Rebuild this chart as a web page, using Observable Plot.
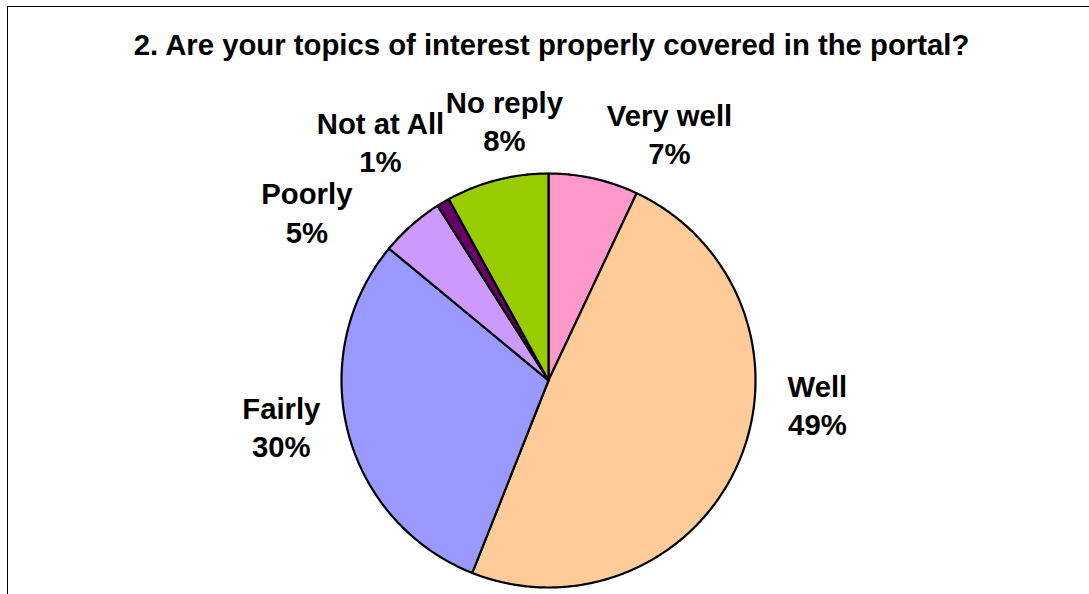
<!DOCTYPE html>
<html>
<head>
<meta charset="utf-8">
<script src="https://cdn.jsdelivr.net/npm/d3@7"></script>
<script src="https://cdn.jsdelivr.net/npm/@observablehq/plot@0.6"></script>
<style>
  html, body { margin: 0; padding: 0; background: #fff; overflow: hidden; width: 1089px; height: 594px; }
  #frame { position: absolute; left: 7px; top: 6px; width: 1200px; height: 700px; border: 1px solid #000; box-sizing: border-box; }
  #title { position: absolute; left: 0; top: 29px; width: 1089px; padding-left: 14px; box-sizing: border-box; text-align: center;
           font: bold 29.3px "Liberation Sans", Arial, sans-serif; line-height: 32px; color: #000; white-space: nowrap; }
  #chart { position: absolute; left: 0; top: 80px; }
</style>
</head>
<body>
<div id="frame"></div>
<div id="title">2. Are your topics of interest properly covered in the portal?</div>
<div id="chart"></div>
<script>
// ---- data ----
const categories = ["Very well", "Well", "Fairly", "Poorly", "Not at All", "No reply"];
const percents = [7, 49, 30, 5, 1, 8];
const colors = ["#FF99CC", "#FFCC99", "#9999FF", "#CC99FF", "#660066", "#99CC00"];

// ---- label layout (angle in degrees clockwise from 12 o'clock, distance in pie radii) ----
const labelAngle = [26, 95, 260.4, 305, 325, 350.4];
const labelDist = [1.333, 1.304, 1.309, 1.425, 1.415, 1.279];

// ---- geometry ----
const W = 1089, H = 514, R = 207, CX = 548, CY = 300;
const pie = d3.pie().sort(null).value(d => d)(percents);

const slices = pie.map((p, i) => {
  const pts = [{x: 0, y: 0}];
  const n = Math.max(2, Math.ceil((p.endAngle - p.startAngle) / (Math.PI / 360)));
  for (let k = 0; k <= n; k++) {
    const a = p.startAngle + (p.endAngle - p.startAngle) * k / n;
    pts.push({x: Math.sin(a), y: Math.cos(a)});
  }
  pts.push({x: 0, y: 0});
  return {pts, color: colors[i]};
});

const labels = categories.map((c, i) => {
  const a = labelAngle[i] * Math.PI / 180;
  return {x: labelDist[i] * Math.sin(a), y: labelDist[i] * Math.cos(a), text: `${c}\n${percents[i]}%`};
});

const chart = Plot.plot({
  width: W,
  height: H,
  margin: 0,
  x: {domain: [-CX / R, (W - CX) / R], range: [0, W], axis: null},
  y: {domain: [-(H - CY) / R, CY / R], range: [H, 0], axis: null},
  style: {background: "transparent", overflow: "visible"},
  marks: [
    ...slices.map(s => Plot.line(s.pts, {x: "x", y: "y", fill: s.color, stroke: "#000", strokeWidth: 2.2, strokeLinejoin: "round", curve: "linear"})),
    Plot.text(labels, {x: "x", y: "y", text: "text", fontSize: 29.3, fontWeight: "bold", fontFamily: "Liberation Sans, Arial, sans-serif", fill: "#000", lineHeight: 1.3, textAnchor: "middle"})
  ]
});
document.getElementById("chart").appendChild(chart);
</script>
</body>
</html>
